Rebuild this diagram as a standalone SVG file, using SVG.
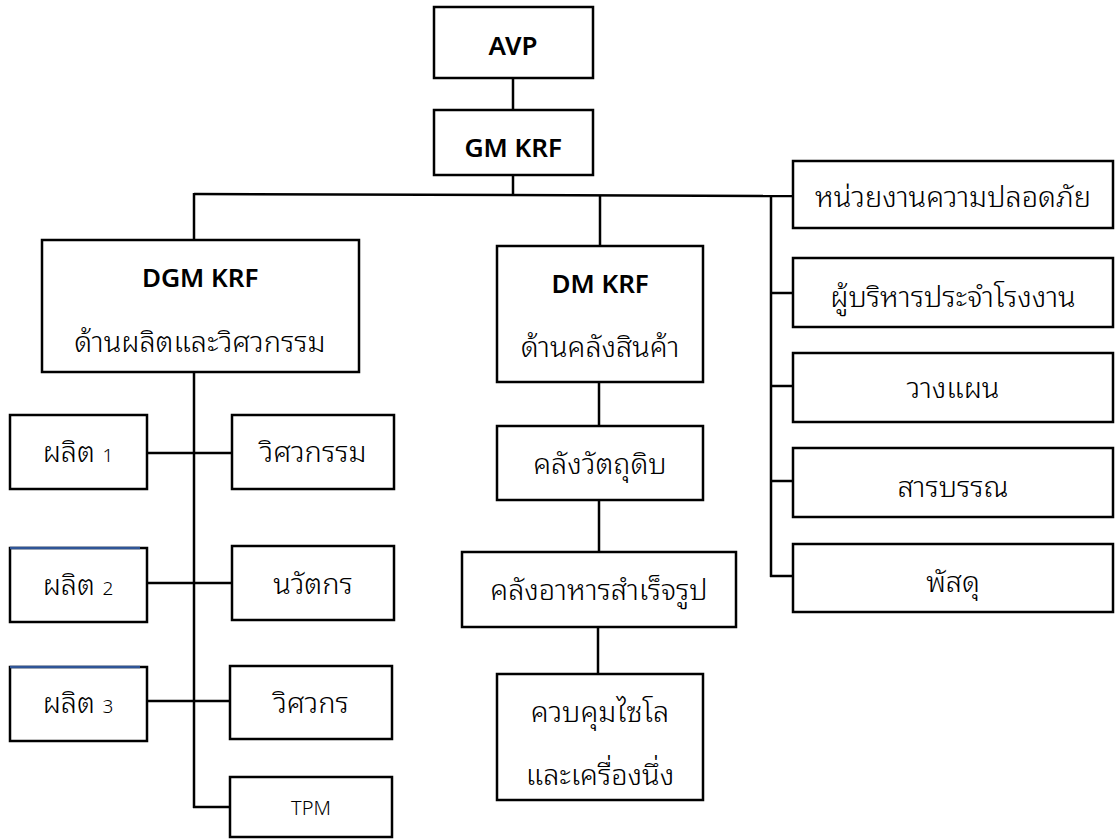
<svg xmlns="http://www.w3.org/2000/svg" width="1117" height="839" viewBox="0 0 1117 839">
<style>
rect{fill:#fff;stroke:#000;stroke-width:2.5}
.c line{stroke:#000;stroke-width:2.5}
text{font-family:"Noto Sans Thai Looped","Noto Sans Thai","Noto Sans","DejaVu Sans",sans-serif;font-size:29px;font-weight:300;text-anchor:middle;fill:#000}
.b{font-weight:600;font-size:26px}
.s{font-size:19px}
.t{font-size:20px}
</style>
<rect x="0" y="0" width="1117" height="839" style="stroke:none"/>
<g class="c">
<line x1="513" y1="78" x2="513" y2="110"/>
<line x1="513" y1="175" x2="513" y2="194"/>
<line x1="194" y1="194" x2="793" y2="196"/>
<line x1="194" y1="193" x2="194" y2="240"/>
<line x1="600" y1="195" x2="600" y2="246"/>
<line x1="771" y1="195" x2="771" y2="577"/>
<line x1="771" y1="293" x2="793" y2="293"/>
<line x1="771" y1="386" x2="793" y2="386"/>
<line x1="771" y1="481" x2="793" y2="481"/>
<line x1="770" y1="576" x2="793" y2="576"/>
<line x1="194" y1="372" x2="194" y2="808"/>
<line x1="147" y1="453" x2="232" y2="453"/>
<line x1="147" y1="583" x2="232" y2="583"/>
<line x1="147" y1="701" x2="230" y2="701"/>
<line x1="193" y1="807" x2="230" y2="807"/>
<line x1="599" y1="382" x2="599" y2="426"/>
<line x1="599" y1="500" x2="599" y2="552"/>
<line x1="598" y1="627" x2="598" y2="674"/>
</g>
<g id="avp"><rect x="434" y="7" width="159" height="71"/><text class="b" x="513" y="55">AVP</text></g>
<g id="gm"><rect x="434" y="110" width="159" height="65"/><text class="b" x="513" y="157">GM KRF</text></g>
<g id="dgm"><rect x="42" y="240" width="317" height="132"/><text class="b" x="200" y="287">DGM KRF</text><text x="200" y="352">ด้านผลิตและวิศวกรรม</text></g>
<g id="dm"><rect x="497" y="246" width="206" height="136"/><text class="b" x="600" y="293">DM KRF</text><text x="600" y="357">ด้านคลังสินค้า</text></g>
<g id="safety"><rect x="793" y="161" width="320" height="67"/><text x="953" y="207">หน่วยงานความปลอดภัย</text></g>
<g id="exec"><rect x="793" y="258" width="320" height="69"/><text x="953" y="307">ผู้บริหารประจำโรงงาน</text></g>
<g id="plan"><rect x="793" y="353" width="320" height="69"/><text x="953" y="398">วางแผน</text></g>
<g id="doc"><rect x="793" y="448" width="320" height="69"/><text x="953" y="497">สารบรรณ</text></g>
<g id="supply"><rect x="793" y="544" width="320" height="68"/><text x="953" y="592">พัสดุ</text></g>
<g id="raw"><rect x="497" y="426" width="206" height="74"/><text x="600" y="474">คลังวัตถุดิบ</text></g>
<g id="finished"><rect x="462" y="552" width="274" height="75"/><text x="599" y="600">คลังอาหารสำเร็จรูป</text></g>
<g id="silo"><rect x="497" y="674" width="206" height="126"/><text x="600" y="722">ควบคุมไซโล</text><text x="600" y="785">และเครื่องนึ่ง</text></g>
<g id="p1"><rect x="10" y="415" width="137" height="74"/><text x="78" y="462">ผลิต <tspan class="s">1</tspan></text></g>
<g id="p2"><rect x="10" y="548" width="137" height="74"/><line x1="10" y1="548" x2="140" y2="548" stroke="#2f5597" stroke-width="2.5"/><text x="78" y="595">ผลิต <tspan class="s">2</tspan></text></g>
<g id="p3"><rect x="10" y="667" width="137" height="74"/><line x1="10" y1="667" x2="140" y2="667" stroke="#2f5597" stroke-width="2.5"/><text x="78" y="713">ผลิต <tspan class="s">3</tspan></text></g>
<g id="eng"><rect x="232" y="415" width="162" height="74"/><text x="313" y="462">วิศวกรรม</text></g>
<g id="innov"><rect x="232" y="546" width="162" height="74"/><text x="313" y="594">นวัตกร</text></g>
<g id="engineer"><rect x="230" y="666" width="162" height="73"/><text x="311" y="713">วิศวกร</text></g>
<g id="tpm"><rect x="230" y="777" width="162" height="60"/><text class="t" x="311" y="815">TPM</text></g>
</svg>
